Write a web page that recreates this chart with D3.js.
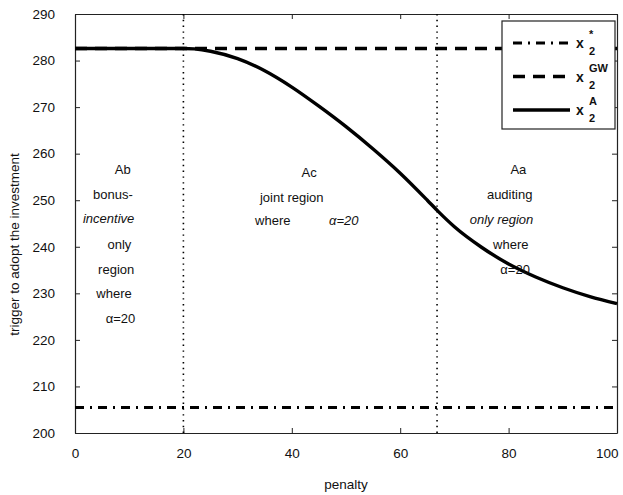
<!DOCTYPE html>
<html>
<head>
<meta charset="utf-8">
<script src="https://cdn.jsdelivr.net/npm/d3@7"></script>
<style>
  body { margin: 0; background: #fff; }
  svg { display: block; font-family: "Liberation Sans", Arial, Helvetica, sans-serif; }
</style>
</head>
<body>
<svg id="chart" width="623" height="495"></svg>
<script>
// values
const penalty = [0, 5, 10, 15, 20, 22, 25, 30, 35, 40, 45, 50, 55, 60, 65, 67, 70, 75, 80, 85, 90, 95, 100]
const x2A = [282.6, 282.6, 282.6, 282.6, 282.6, 282.5, 282.0, 280.4, 277.8, 274.3, 270.2, 265.8, 261.0, 255.8, 250.0, 247.6, 244.3, 239.9, 236.3, 233.5, 231.2, 229.3, 227.8]
const x2GWpenalty = [0, 100]
const x2GW = [282.6, 282.6]
const x2Starpenalty = [0, 100]
const x2Star = [205.5, 205.5]

const regionBounds = [20, 66.8]
const xTicks = [0, 20, 40, 60, 80, 100]
const yTicks = [200, 210, 220, 230, 240, 250, 260, 270, 280, 290]

const legendItems = [
	{ key: 'star', sup: '*' },
	{ key: 'gw', sup: 'GW' },
	{ key: 'a', sup: 'A' },
]

// annotation lines: [penalty, value, text, italic]
const notesAb = [
	[8.8, 256.6, 'Ab', false],
	[7.0, 251.2, 'bonus-', false],
	[6.2, 246.0, 'incentive', true],
	[8.2, 240.6, 'only', false],
	[7.6, 235.2, 'region', false],
	[7.2, 230.0, 'where', false],
	[8.4, 224.6, '\u03b1=20', false],
]
const notesAc = [
	[43.2, 255.9, 'Ac', false],
	[40.0, 250.5, 'joint region', false],
	[36.5, 245.6, 'where', false],
	[49.6, 245.6, '\u03b1=20', true],
]
const notesAa = [
	[81.8, 256.6, 'Aa', false],
	[80.2, 251.2, 'auditing', false],
	[78.7, 245.8, 'only region', true],
	[80.4, 240.6, 'where', false],
	[81.2, 235.2, '\u03b1=20', false],
]

const style = {
	star: { width: 3, dash: '9,6,2,6' },
	gw: { width: 3.6, dash: '12,8' },
	a: { width: 3.4, dash: null },
}

const svg = d3.select('#chart')
const plotL = 75, plotR = 617, plotT = 14, plotB = 433

const xScale = d3.scaleLinear().domain([0, 100]).range([plotL, plotR])
const yScale = d3.scaleLinear().domain([200, 290]).range([plotB, plotT])

// frame + ticks on all four sides
let bottomAxis = d3.axisBottom(xScale).tickValues(xTicks).tickSizeInner(-5).tickSizeOuter(0).tickPadding(15)
let topAxis = d3.axisTop(xScale).tickValues(xTicks).tickSizeInner(-5).tickSizeOuter(0).tickFormat('')
let leftAxis = d3.axisLeft(yScale).tickValues(yTicks).tickSizeInner(-5).tickSizeOuter(0).tickPadding(20)
let rightAxis = d3.axisRight(yScale).tickValues(yTicks).tickSizeInner(-5).tickSizeOuter(0).tickFormat('')

let gB = svg.append('g').attr('transform', `translate(0,${plotB})`).call(bottomAxis)
svg.append('g').attr('transform', `translate(0,${plotT})`).call(topAxis)
svg.append('g').attr('transform', `translate(${plotL},0)`).call(leftAxis)
svg.append('g').attr('transform', `translate(${plotR},0)`).call(rightAxis)

svg.selectAll('.domain').attr('stroke', '#222').attr('stroke-width', 1.2)
svg.selectAll('.tick line').attr('stroke', '#222').attr('stroke-width', 1)
svg.selectAll('.tick text').attr('font-size', 13.5).attr('fill', '#111')
	.attr('font-family', '"Liberation Sans", Arial, sans-serif')
gB.selectAll('.tick text').filter(d => d === 100).attr('text-anchor', 'end').attr('dx', 1)

// axis titles
svg.append('text')
	.attr('x', (plotL + plotR) / 2).attr('y', 489)
	.attr('text-anchor', 'middle').attr('font-size', 13.5).attr('fill', '#111')
	.text('penalty')
svg.append('text')
	.attr('transform', `translate(14,${(plotT + plotB) / 2 + 21}) rotate(-90)`)
	.attr('text-anchor', 'middle').attr('dy', '0.35em').attr('font-size', 13.5).attr('fill', '#111')
	.text('trigger to adopt the investment')

// dotted region boundaries
svg.selectAll('.bound')
	.data(regionBounds)
	.enter().append('line')
	.attr('x1', d => xScale(d)).attr('x2', d => xScale(d))
	.attr('y1', plotT).attr('y2', plotB)
	.attr('stroke', '#000').attr('stroke-width', 1.6)
	.attr('stroke-dasharray', '1.4,4.4')

// series
let line = d3.line().x(d => xScale(d[0])).y(d => yScale(d[1])).curve(d3.curveMonotoneX)

function drawSeries(xs, ys, key) {
	svg.append('path')
		.datum(xs.map((x, i) => [x, ys[i]]))
		.attr('d', line)
		.attr('fill', 'none')
		.attr('stroke', '#000')
		.attr('stroke-width', style[key].width)
		.attr('stroke-dasharray', style[key].dash)
}

drawSeries(x2Starpenalty, x2Star, 'star')
drawSeries(x2GWpenalty, x2GW, 'gw')
drawSeries(penalty, x2A, 'a')

// annotations
function drawNotes(notes) {
	svg.append('g').selectAll('text')
		.data(notes)
		.enter().append('text')
		.attr('x', d => xScale(d[0]))
		.attr('y', d => yScale(d[1]))
		.attr('text-anchor', 'middle')
		.attr('dy', '0.35em')
		.attr('font-size', 13)
		.attr('fill', '#111')
		.attr('font-style', d => d[3] ? 'italic' : 'normal')
		.text(d => d[2])
}
drawNotes(notesAb)
drawNotes(notesAc)
drawNotes(notesAa)

// legend
let lg = svg.append('g').attr('transform', 'translate(502,21)')
lg.append('rect')
	.attr('width', 113).attr('height', 108)
	.attr('fill', '#fff').attr('stroke', '#222').attr('stroke-width', 1.2)

let rows = lg.selectAll('.row')
	.data(legendItems)
	.enter().append('g')
	.attr('transform', (d, i) => `translate(0,${22 + i * 33.5})`)

rows.append('line')
	.attr('x1', 11).attr('x2', 68)
	.attr('stroke', '#000')
	.attr('stroke-width', d => style[d.key].width)
	.attr('stroke-dasharray', d => style[d.key].dash)

rows.append('text')
	.attr('x', 74).attr('y', 5)
	.attr('font-size', 14).attr('font-weight', 'bold').attr('fill', '#111')
	.text('x')
rows.append('text')
	.attr('x', 87).attr('y', -5)
	.attr('font-size', 11).attr('font-weight', 'bold').attr('fill', '#111')
	.text(d => d.sup)
rows.append('text')
	.attr('x', 87).attr('y', 12)
	.attr('font-size', 11).attr('font-weight', 'bold').attr('fill', '#111')
	.text('2')
</script>
</body>
</html>
